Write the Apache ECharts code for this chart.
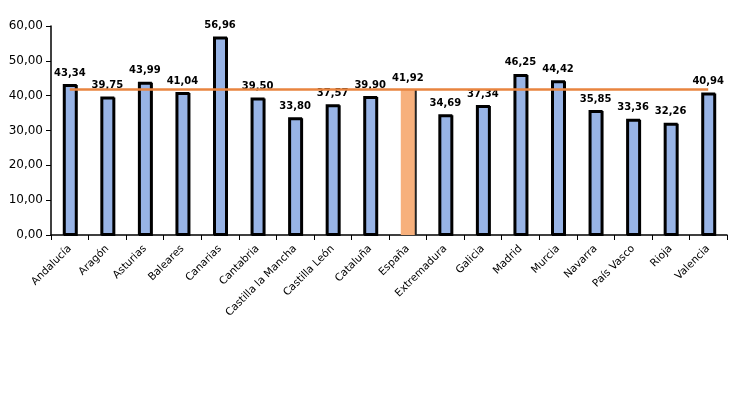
<!DOCTYPE html>
<html>
<head>
<meta charset="utf-8">
<script src="https://cdn.jsdelivr.net/npm/echarts@6/dist/echarts.min.js"></script>
<style>html,body{margin:0;padding:0;background:#fff}#c{width:730px;height:411px}</style>
</head>
<body>
<div id="c"></div>
<script>
var categories = ['Andalucía','Aragón','Asturias','Baleares','Canarias','Cantabria','Castilla la Mancha','Castilla León','Cataluña','España','Extremadura','Galicia','Madrid','Murcia','Navarra','País Vasco','Rioja','Valencia'];
var values = [43.34,39.75,43.99,41.04,56.96,39.50,33.80,37.57,39.90,41.92,34.69,37.34,46.25,44.42,35.85,33.36,32.26,40.94];
var highlightCategory = 'España';
var referenceValue = 41.92;
var yTicks = {min: 0, max: 60, interval: 10};

function fmt(v){ return v.toFixed(2).replace('.', ','); }

var barData = values.map(function(v, i){
  if (categories[i] === highlightCategory) {
    return {value: v, itemStyle: {color: '#F7B07C', borderWidth: 0, shadowColor: '#222', shadowOffsetX: 2, shadowOffsetY: 0}};
  }
  return v;
});

var chart = echarts.init(document.getElementById('c'));
chart.setOption({
  animation: false,
  grid: {left: 51, right: 3, top: 26, bottom: 176, containLabel: false},
  xAxis: {
    type: 'category',
    data: categories,
    boundaryGap: true,
    axisLine: {lineStyle: {color: '#000', width: 1.5}},
    axisTick: {show: true, alignWithLabel: false, length: 5, lineStyle: {color: '#000'}},
    axisLabel: {rotate: 45, interval: 0, color: '#000', fontFamily: 'DejaVu Sans', fontSize: 10.5, margin: 12}
  },
  yAxis: {
    type: 'value',
    min: yTicks.min, max: yTicks.max, interval: yTicks.interval,
    splitLine: {show: false},
    axisLine: {show: true, lineStyle: {color: '#000', width: 1.5}},
    axisTick: {show: true, length: 5, lineStyle: {color: '#000'}},
    axisLabel: {color: '#000', fontFamily: 'DejaVu Sans', fontSize: 12, margin: 8, formatter: function(v){ return fmt(v); }}
  },
  series: [{
    type: 'bar',
    data: barData,
    barWidth: 14,
    itemStyle: {color: '#98B4E6', borderColor: '#000', borderWidth: 2, shadowColor: '#000', shadowOffsetX: 1, shadowOffsetY: 1, shadowBlur: 0},
    label: {show: true, position: 'top', distance: 6, color: '#000', fontFamily: 'DejaVu Sans', fontWeight: 'bold', fontSize: 10, formatter: function(p){ return fmt(p.value); }},
    markLine: {
      silent: true,
      symbol: 'none',
      label: {show: false},
      lineStyle: {color: '#E8843F', width: 2.5, type: 'solid'},
      data: [[{coord: [categories[0], referenceValue]}, {coord: [categories[categories.length - 1], referenceValue]}]]
    }
  }]
});
</script>
</body>
</html>
